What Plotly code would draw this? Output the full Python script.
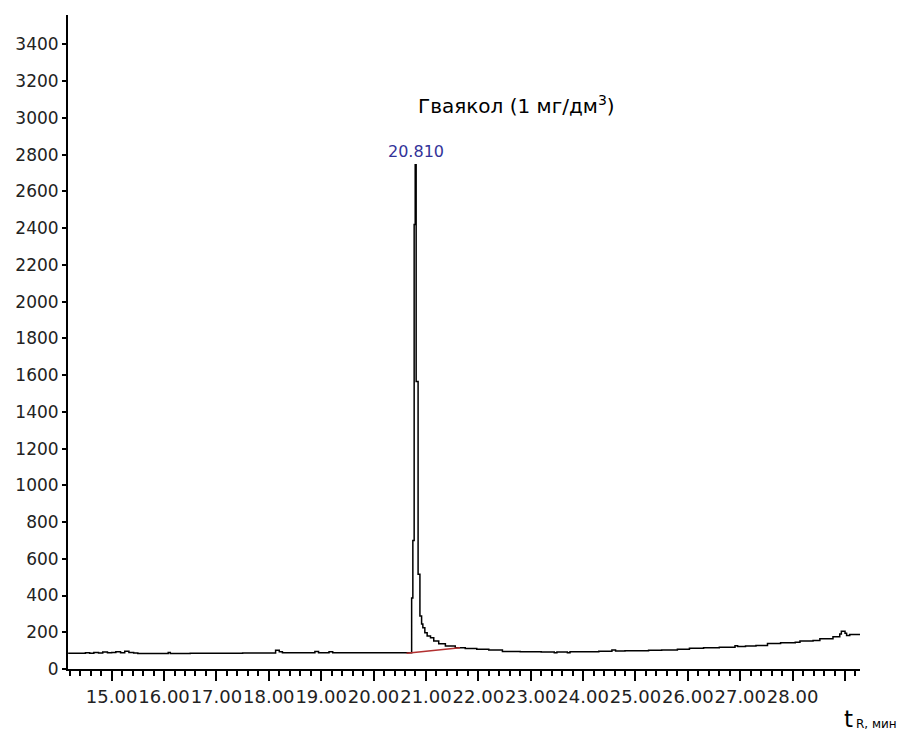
import plotly.graph_objects as go

# Retention time (min) and detector signal (hv step trace)
time_min = [14.17, 14.50, 14.58, 14.66, 14.75, 14.83, 14.92, 15.00, 15.08, 15.17,
            15.25, 15.33, 15.42, 15.50, 16.00, 16.08, 16.12, 16.50, 17.00, 17.50,
            18.00, 18.13, 18.20, 18.26, 18.50, 18.88, 18.95, 19.02, 19.15, 19.22,
            19.28, 19.60, 20.00, 20.40, 20.727, 20.75, 20.775, 20.795, 20.813, 20.85,
            20.885, 20.917, 20.941, 20.979, 21.023, 21.087, 21.149, 21.244, 21.371, 21.56,
            21.75, 21.97, 22.20, 22.46, 22.80, 23.20, 23.45, 23.50, 23.70, 23.75,
            24.00, 24.30, 24.55, 24.62, 24.80, 25.00, 25.25, 25.50, 25.80, 26.03,
            26.30, 26.60, 26.90, 26.95, 27.10, 27.30, 27.52, 27.77, 28.05, 28.14,
            28.39, 28.52, 28.77, 28.90, 28.93, 29.00, 29.03, 29.09, 29.286]
signal = [86, 88, 86, 90, 87, 92, 88, 90, 94, 88,
          96, 90, 87, 85, 85, 90, 85, 86, 86, 87,
          87, 102, 94, 88, 88, 95, 89, 88, 94, 88,
          88, 88, 88, 88, 386, 700, 2420, 2745, 1565, 516,
          288, 245, 225, 198, 180, 170, 152, 138, 125, 116,
          112, 107, 103, 95, 94, 93, 88, 93, 89, 94,
          94, 96, 104, 98, 100, 99, 102, 104, 107, 113,
          116, 119, 126, 122, 125, 128, 139, 143, 146, 152,
          155, 165, 175, 190, 205, 195, 183, 188, 188]

# Integration baseline under the peak
baseline_t = [20.63, 21.65]
baseline_v = [86, 115]

# Axis ticks
x_tickvals = [15, 16, 17, 18, 19, 20, 21, 22, 23, 24, 25, 26, 27, 28, 29]
x_ticktext = ["15.00", "16.00", "17.00", "18.00", "19.00", "20.00", "21.00",
              "22.00", "23.00", "24.00", "25.00", "26.00", "27.00", "28.00", " "]
y_tickvals = list(range(0, 3401, 200))

peak_time = 20.81
peak_label = "20.810"

fig = go.Figure()
fig.add_trace(go.Scatter(x=time_min, y=signal, mode="lines", line_shape="hv",
                         line=dict(color="black", width=1.5), showlegend=False,
                         hoverinfo="skip"))
fig.add_trace(go.Scatter(x=baseline_t, y=baseline_v, mode="lines",
                         line=dict(color="#b23030", width=1.5), showlegend=False,
                         hoverinfo="skip"))

fig.update_layout(
    width=898, height=724,
    margin=dict(l=53, r=46, t=7, b=63),
    paper_bgcolor="white", plot_bgcolor="white",
    xaxis=dict(range=[14.167, 29.286], showgrid=False, zeroline=False,
               showline=True, linecolor="black", linewidth=2,
               tickmode="array", tickvals=x_tickvals, ticktext=x_ticktext,
               ticks="outside", ticklen=10, tickwidth=1.5, tickcolor="black",
               tickangle=0, tickfont=dict(family="DejaVu Sans", size=18, color="#222"),
               minor=dict(tick0=15, dtick=0.2, ticks="outside", ticklen=5,
                          tickwidth=1.5, tickcolor="black")),
    yaxis=dict(range=[0, 3560], showgrid=False, zeroline=False,
               showline=True, linecolor="black", linewidth=2,
               tickmode="array", tickvals=y_tickvals,
               ticks="outside", ticklen=4, tickwidth=1.5, tickcolor="black",
               tickfont=dict(family="DejaVu Sans", size=17, color="#222")),
)

fig.add_annotation(x=22.72, y=3070, xref="x", yref="y",
                   text="Гваякол (1 мг/дм<sup>3</sup>)", showarrow=False,
                   font=dict(family="DejaVu Sans", size=20, color="black"))
fig.add_annotation(x=peak_time, y=2815, xref="x", yref="y",
                   text=peak_label, showarrow=False,
                   font=dict(family="DejaVu Sans", size=16, color="#333399"))
fig.add_annotation(x=0.9928, y=-0.0765, xref="paper", yref="paper",
                   text="t", showarrow=False, xanchor="right", yanchor="middle",
                   borderpad=0,
                   font=dict(family="DejaVu Sans", size=23, color="black"))
fig.add_annotation(x=0.9935, y=-0.0841, xref="paper", yref="paper",
                   text="R, мин", showarrow=False, xanchor="left", yanchor="middle",
                   borderpad=0,
                   font=dict(family="DejaVu Sans", size=12, color="black"))

fig.write_html("out.html")
